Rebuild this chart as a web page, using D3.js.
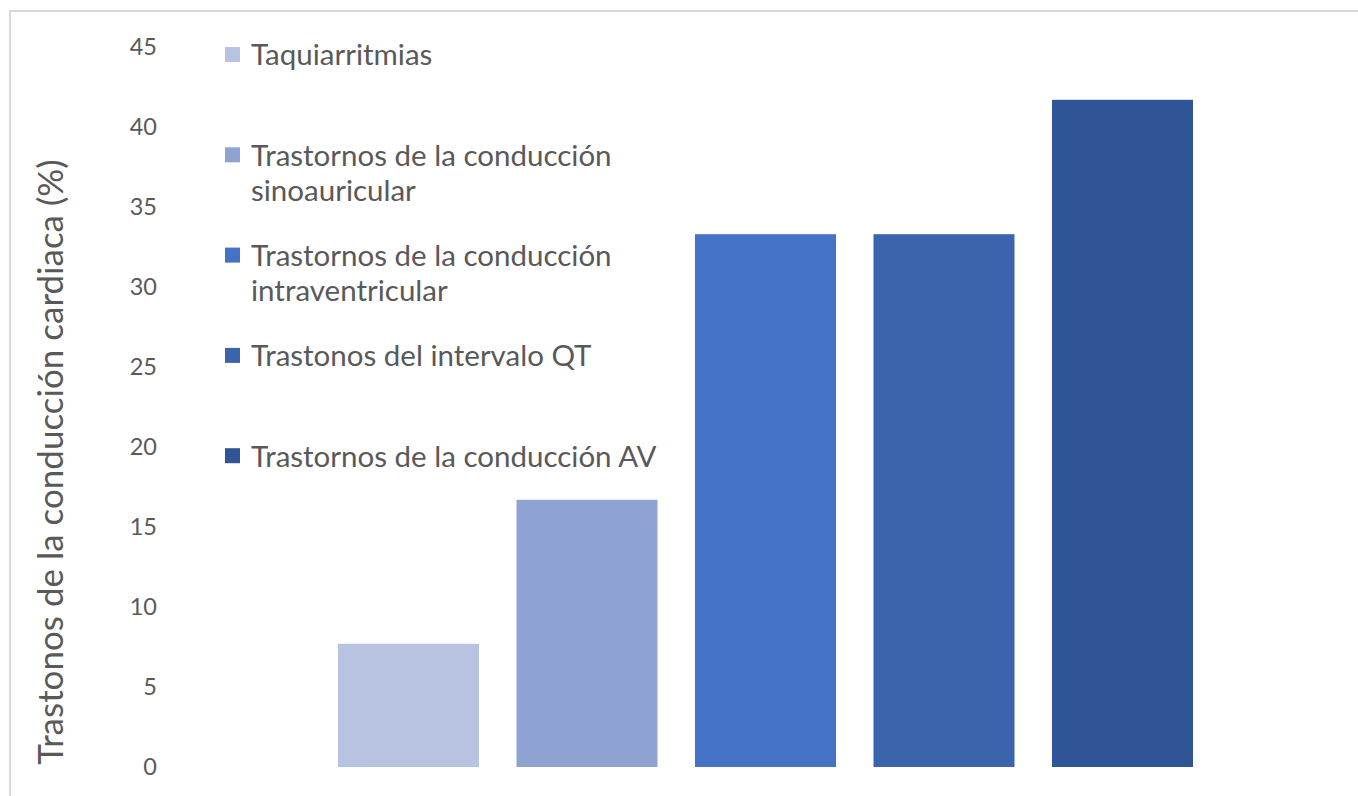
<!DOCTYPE html>
<html>
<head>
<meta charset="utf-8">
<script src="https://cdn.jsdelivr.net/npm/d3@7"></script>
<style>
  body { margin: 0; background: #fff; }
  text { font-family: Lato, "Open Sans", sans-serif; fill: #595959; }
</style>
</head>
<body>
<div id="chart"></div>
<script>
var series = [
  "Taquiarritmias",
  "Trastornos de la conducción sinoauricular",
  "Trastornos de la conducción intraventricular",
  "Trastonos del intervalo QT",
  "Trastornos de la conducción AV"
];
var legendLines = [
  ["Taquiarritmias"],
  ["Trastornos de la conducción", "sinoauricular"],
  ["Trastornos de la conducción", "intraventricular"],
  ["Trastonos del intervalo QT"],
  ["Trastornos de la conducción AV"]
];
var values = [7.7, 16.7, 33.3, 33.3, 41.7];
var colors = ["#b8c3e2", "#8fa3d3", "#4472c4", "#3c64ad", "#2f5597"];
var yTicks = [0, 5, 10, 15, 20, 25, 30, 35, 40, 45];
var yTitle = "Trastonos de la conducción cardiaca (%)";

draw();

function draw() {
  var width = 1358;
  var height = 796;

  var svg = d3.select("#chart")
    .append("svg")
    .attr("width", width)
    .attr("height", height);

  // frame, cropped on the right and bottom
  svg.append("path")
    .attr("d", "M10," + height + "V11H" + width)
    .attr("fill", "none")
    .attr("stroke", "#d9d9d9")
    .attr("stroke-width", 2);

  var x = d3.scaleBand()
    .domain(series)
    .range([338, 1193])
    .paddingInner(0.21)
    .paddingOuter(0);

  var y = d3.scaleLinear()
    .domain([0, 45])
    .range([767, 47]);

  var yAxis = svg.append("g")
    .attr("transform", "translate(157,0)")
    .call(d3.axisLeft(y).tickValues(yTicks).tickSize(0).tickPadding(0));
  yAxis.select(".domain").remove();
  yAxis.selectAll("text")
    .attr("fill", "#595959")
    .style("font-size", "23.5px")
    .style("font-family", "Lato, 'Open Sans', sans-serif");

  svg.selectAll("rect.bar")
    .data(values)
    .enter()
    .append("rect")
    .attr("class", "bar")
    .attr("x", function(d, i) { return x(series[i]); })
    .attr("y", function(d) { return y(d); })
    .attr("width", x.bandwidth())
    .attr("height", function(d) { return y(0) - y(d); })
    .attr("fill", function(d, i) { return colors[i]; });

  svg.append("text")
    .attr("transform", "translate(63," + 462 + ") rotate(-90)")
    .style("text-anchor", "middle")
    .style("font-size", "35px")
    .text(yTitle);

  var legend = svg.selectAll("g.legend")
    .data(legendLines)
    .enter()
    .append("g")
    .attr("class", "legend")
    .attr("transform", function(d, i) { return "translate(225," + (55 + i * 100.3) + ")"; });

  legend.append("rect")
    .attr("x", 0)
    .attr("y", -8)
    .attr("width", 15)
    .attr("height", 15)
    .attr("fill", function(d, i) { return colors[i]; });

  legend.each(function(lines) {
    var t = d3.select(this).append("text")
      .attr("x", 26)
      .attr("y", 0)
      .style("font-size", "29.5px");
    lines.forEach(function(line, j) {
      t.append("tspan")
        .attr("x", 26)
        .attr("dy", j === 0 ? "0.35em" : 35)
        .text(line);
    });
  });
}
</script>
</body>
</html>
